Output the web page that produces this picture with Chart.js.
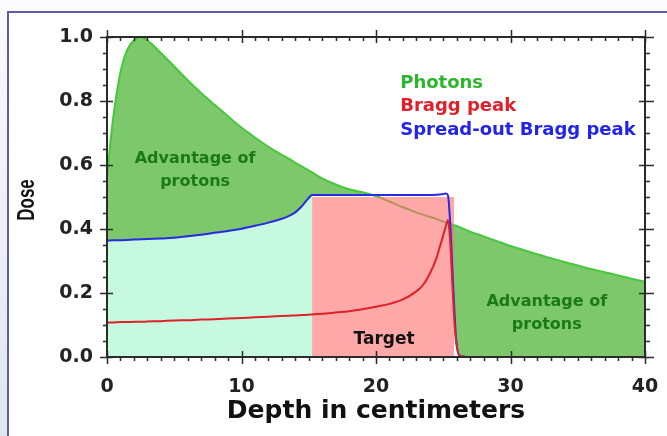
<!DOCTYPE html>
<html>
<head>
<meta charset="utf-8">
<script src="https://cdn.jsdelivr.net/npm/chart.js@4"></script>
<style>
  html, body { margin: 0; padding: 0; width: 667px; height: 436px; overflow: hidden;
    background: linear-gradient(to bottom, #fbfbfd, #e2e4ef); }
  #frame { position: absolute; left: 7px; top: 11px; right: 0; bottom: 0; background: #fff;
    border-left: 2px solid #5c5cab; border-top: 2px solid #5c5cab; }
  #wrap { position: absolute; left: 0; top: 0; width: 667px; height: 436px; }
</style>
</head>
<body>
<div id="frame"></div>
<div id="wrap"><canvas id="c" width="667" height="436"></canvas></div>
<script>
  // depth (cm) shared by the three curves
  const depth = [0, 0.25, 0.5, 1, 1.5, 2, 2.5, 3, 4, 5, 6, 7, 8, 9, 10, 11, 12, 13, 13.5, 14, 14.5, 15, 15.25,
    16, 17, 18, 19, 20, 21, 22, 23, 23.5, 24, 24.5, 24.75, 25, 25.2, 25.35, 25.5, 25.65, 25.8, 25.95, 26.2,
    27, 28, 29, 30, 31, 32, 33, 34, 35, 36, 37, 38, 39, 40];

  const photons = [0.56, 0.67, 0.76, 0.89, 0.96, 0.99, 1.0, 0.99, 0.95, 0.908, 0.865, 0.825, 0.788, 0.752, 0.717,
    0.686, 0.657, 0.632, 0.62, 0.607, 0.595, 0.583, 0.577,
    0.558, 0.539, 0.524, 0.515, 0.503, 0.486, 0.468, 0.452, 0.445, 0.438, 0.431, 0.427, 0.423, 0.42, 0.418,
    0.416, 0.414, 0.412, 0.41, 0.406,
    0.392, 0.377, 0.362, 0.347, 0.334, 0.321, 0.309, 0.297, 0.286, 0.275, 0.265, 0.255, 0.245, 0.235];

  const sobp = [0.364, 0.364, 0.365, 0.365, 0.366, 0.367, 0.368, 0.369, 0.37, 0.373, 0.377, 0.382, 0.388, 0.394, 0.401,
    0.41, 0.42, 0.432, 0.44, 0.452, 0.472, 0.497, 0.506,
    0.506, 0.506, 0.506, 0.506, 0.506, 0.506, 0.506, 0.506, 0.506, 0.506, 0.507, 0.508, 0.509, 0.511, 0.505,
    0.43, 0.3, 0.17, 0.06, 0.005,
    0, 0, 0, 0, 0, 0, 0, 0, 0, 0, 0, 0, 0, 0];

  const bragg = [0.108, 0.108, 0.108, 0.109, 0.109, 0.11, 0.11, 0.111, 0.112, 0.114, 0.115, 0.117, 0.118, 0.12, 0.122,
    0.124, 0.126, 0.128, 0.129, 0.13, 0.131, 0.132, 0.133,
    0.135, 0.139, 0.143, 0.149, 0.157, 0.166, 0.18, 0.205, 0.225, 0.26, 0.31, 0.345, 0.38, 0.41, 0.428,
    0.37, 0.25, 0.13, 0.05, 0.005,
    0, 0, 0, 0, 0, 0, 0, 0, 0, 0, 0, 0, 0, 0];

  // target volume (pink block)
  const targetX = [15.25, 25.8];
  const targetY = [0.5, 0.5];

  const xTicks = [0, 10, 20, 30, 40];
  const xTickLabels = ['0', '10', '20', '30', '40'];
  const yTicks = [0, 0.2, 0.4, 0.6, 0.8, 1.0];
  const yTickLabels = ['0.0', '0.2', '0.4', '0.6', '0.8', '1.0'];

  const legendItems = ['Photons', 'Bragg peak', 'Spread-out Bragg peak'];
  const legendColors = ['#2db52d', '#e0202a', '#2323ea'];

  const COLORS = {
    photonLine: '#46c83a',
    photonFill: '#7cc86a',
    mint: '#c6f9e0',
    target: 'rgba(255, 110, 110, 0.6)',
    sobp: '#2a2ae0',
    bragg: '#e0202a',
    axis: '#2b2b2b',
    advantage: '#1a7a1a',
  };
  const FONT = 'DejaVu Sans';

  function pts(ys) {
    return depth.map(function (x, i) { return { x: x, y: ys[i] }; });
  }
  const mintPts = pts(sobp).filter(function (p) { return p.x <= targetX[0]; });
  const targetPts = targetX.map(function (x, i) { return { x: x, y: targetY[i] }; });

  const lineBase = { pointRadius: 0, cubicInterpolationMode: 'monotone', borderWidth: 2 };

  const decorations = {
    id: 'decorations',
    afterDatasetsDraw(chart) {
      const ctx = chart.ctx;
      const { left, right, top, bottom } = chart.chartArea;
      const xs = chart.scales.x, ys = chart.scales.y;
      ctx.save();
      ctx.strokeStyle = COLORS.axis;
      ctx.lineWidth = 1.5;
      // minor + major ticks on all four sides
      for (let v = 0; v <= 40.001; v += 1) {
        const px = Math.round(xs.getPixelForValue(v)) + 0.5;
        const major = Math.abs(v % 10) < 1e-6;
        ctx.beginPath();
        if (major) {
          ctx.moveTo(px, bottom - 6); ctx.lineTo(px, bottom + 7);
          ctx.moveTo(px, top - 7); ctx.lineTo(px, top + 6);
        } else {
          ctx.moveTo(px, bottom); ctx.lineTo(px, bottom + 4);
          ctx.moveTo(px, top); ctx.lineTo(px, top + 4);
        }
        ctx.stroke();
      }
      for (let k = 0; k <= 20; k++) {
        const v = k * 0.05;
        const py = Math.round(ys.getPixelForValue(v)) + 0.5;
        const major = k % 4 === 0;
        ctx.beginPath();
        if (major) {
          ctx.moveTo(left - 7, py); ctx.lineTo(left + 6, py);
          ctx.moveTo(right - 6, py); ctx.lineTo(right + 9, py);
        } else {
          ctx.moveTo(left - 4, py); ctx.lineTo(left, py);
          ctx.moveTo(right, py); ctx.lineTo(right + 5, py);
        }
        ctx.stroke();
      }
      ctx.lineWidth = 2;
      ctx.strokeRect(left, top, right - left, bottom - top);
      ctx.restore();
    },
    afterDraw(chart) {
      const ctx = chart.ctx;
      const xs = chart.scales.x, ys = chart.scales.y;
      const X = function (v) { return xs.getPixelForValue(v); };
      const Y = function (v) { return ys.getPixelForValue(v); };
      ctx.save();
      ctx.textBaseline = 'middle';

      // legend text
      ctx.textAlign = 'left';
      ctx.font = 'bold 18px "' + FONT + '"';
      const legendY = [0.856, 0.784, 0.709];
      legendItems.forEach(function (t, i) {
        ctx.fillStyle = legendColors[i];
        ctx.fillText(t, X(21.8), Y(legendY[i]));
      });

      // annotations
      ctx.textAlign = 'center';
      ctx.fillStyle = COLORS.advantage;
      ctx.font = 'bold 16px "' + FONT + '"';
      ctx.fillText('Advantage of', X(6.55), Y(0.619));
      ctx.fillText('protons', X(6.55), Y(0.547));
      ctx.fillText('Advantage of', X(32.7), Y(0.172));
      ctx.fillText('protons', X(32.7), Y(0.1));
      ctx.fillStyle = '#111';
      ctx.font = 'bold 17px "' + FONT + '"';
      ctx.fillText('Target', X(20.6), Y(0.053));

      // axis titles
      ctx.fillStyle = '#111';
      ctx.font = 'bold 25px "' + FONT + '"';
      ctx.fillText('Depth in centimeters', (chart.chartArea.left + chart.chartArea.right) / 2, 411);
      ctx.translate(27, 200);
      ctx.scale(1.4, 1);
      ctx.rotate(-Math.PI / 2);
      ctx.font = 'bold 17px "Liberation Sans"';
      ctx.fillText('Dose', 0, 0);
      ctx.restore();
    },
  };

  new Chart(document.getElementById('c'), {
    type: 'line',
    data: {
      datasets: [
        Object.assign({}, lineBase, {
          label: 'mint', data: mintPts, borderWidth: 0, borderColor: 'transparent',
          backgroundColor: COLORS.mint, fill: 'origin', order: 6,
        }),
        Object.assign({}, lineBase, {
          label: 'Photons', data: pts(photons), borderColor: COLORS.photonLine,
          fill: { target: 3, above: COLORS.photonFill, below: 'transparent' }, order: 5,
        }),
        {
          label: 'Target', data: targetPts, pointRadius: 0, borderWidth: 0, borderColor: 'transparent',
          backgroundColor: COLORS.target, fill: 'origin', order: 4,
        },
        Object.assign({}, lineBase, {
          label: 'Spread-out Bragg peak', data: pts(sobp), borderColor: COLORS.sobp, fill: false, order: 3,
        }),
        Object.assign({}, lineBase, {
          label: 'Bragg peak', data: pts(bragg), borderColor: COLORS.bragg, fill: false, order: 2,
        }),
      ],
    },
    options: {
      responsive: false,
      animation: false,
      devicePixelRatio: 1,
      layout: { padding: { top: 37, right: 22, left: 0, bottom: 0 } },
      plugins: { legend: { display: false }, tooltip: { enabled: false } },
      scales: {
        x: {
          type: 'linear', min: 0, max: 40,
          afterFit(s) { s.height = 79; s.paddingLeft = 0; s.paddingRight = 0; },
          afterBuildTicks(s) { s.ticks = xTicks.map(function (v) { return { value: v }; }); },
          grid: { display: false, drawTicks: false },
          border: { display: false },
          ticks: {
            autoSkip: false, maxRotation: 0, padding: 19, color: '#222',
            font: { family: FONT, weight: 'bold', size: 19 },
            callback: function (v, i) { return xTickLabels[i]; },
          },
        },
        y: {
          type: 'linear', min: 0, max: 1,
          afterFit(s) { s.width = 107; s.paddingTop = 0; s.paddingBottom = 0; },
          afterBuildTicks(s) { s.ticks = yTicks.map(function (v) { return { value: v }; }); },
          grid: { display: false, drawTicks: false },
          border: { display: false },
          ticks: {
            autoSkip: false, padding: 14, color: '#222',
            font: { family: FONT, weight: 'bold', size: 19 },
            callback: function (v, i) { return yTickLabels[i]; },
          },
        },
      },
    },
    plugins: [decorations],
  });
</script>
</body>
</html>
